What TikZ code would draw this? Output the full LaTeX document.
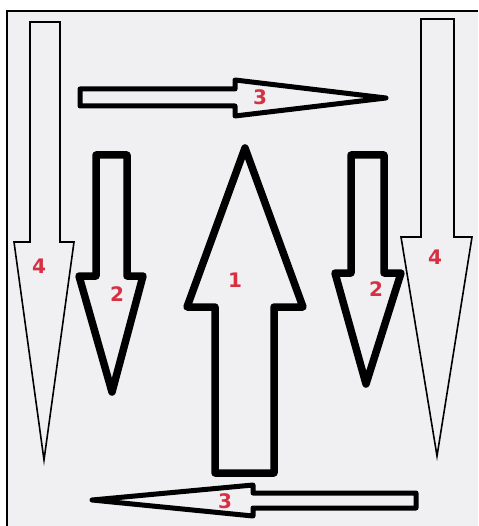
\documentclass[tikz,border=0pt]{standalone}
\usepackage{fontspec}
\setsansfont{DejaVu Sans}
\usepackage{xcolor}
\definecolor{paper}{RGB}{240,240,243}
\definecolor{numred}{RGB}{214,48,66}
\tikzset{
  numlbl/.style={font=\sffamily\bfseries\fontsize{20}{20}\selectfont,
                 text=numred, inner sep=0pt},
  thinarr/.style={draw=black, line width=1.6pt, line join=miter},
  midarr/.style={draw=black, line width=5pt, line join=round},
  fatarr/.style={draw=black, line width=7.5pt, line join=round},
}

\begin{document}
\begin{tikzpicture}[x=1pt, y=-1pt]
    \useasboundingbox (0,0) rectangle (478,526);
    \fill[white] (0,0) rectangle (478,526);
    \fill[paper] (7,11) rectangle (478,526);
    \draw[line width=2.4pt] (478,11) -- (7,11) -- (7,526);

    % 4 : thin arrows down the sides
    \draw[thinarr] (30,22) -- (60,22) -- (60,242) -- (74,242) -- (44,460)
                   -- (14,242) -- (30,242) -- cycle;
    \draw[thinarr] (421,19) -- (454,19) -- (454,237) -- (472,237) -- (437,456)
                   -- (401,237) -- (421,237) -- cycle;

    % 3 : top right, bottom left
    \draw[midarr] (80,89) -- (235,89) -- (235,80) -- (386,98)
                  -- (235,116) -- (235,106) -- (80,106) -- cycle;
    \draw[midarr] (416,493) -- (253,493) -- (253,485) -- (92,500)
                  -- (253,516) -- (253,508) -- (416,508) -- cycle;

    % 2 : down
    \draw[fatarr] (96,155) -- (127,155) -- (127,276) -- (143,276) -- (112,392)
                  -- (79,276) -- (96,276) -- cycle;
    \draw[fatarr] (351,155) -- (384,155) -- (384,273) -- (401,273) -- (366,384)
                  -- (335,273) -- (351,273) -- cycle;

    % 1 : up
    \draw[fatarr] (215,473) -- (274,473) -- (274,307) -- (303,307) -- (245,148)
                  -- (187,307) -- (215,307) -- cycle;

    \node[numlbl] (n1)  at (235,280) {1};
    \node[numlbl] (n2l) at (117,294) {2};
    \node[numlbl] (n2r) at (376,289) {2};
    \node[numlbl] (n3t) at (260,97)  {3};
    \node[numlbl] (n3b) at (225,501) {3};
    \node[numlbl] (n4l) at (39,266)  {4};
    \node[numlbl] (n4r) at (435,257) {4};
\end{tikzpicture}
\end{document}
